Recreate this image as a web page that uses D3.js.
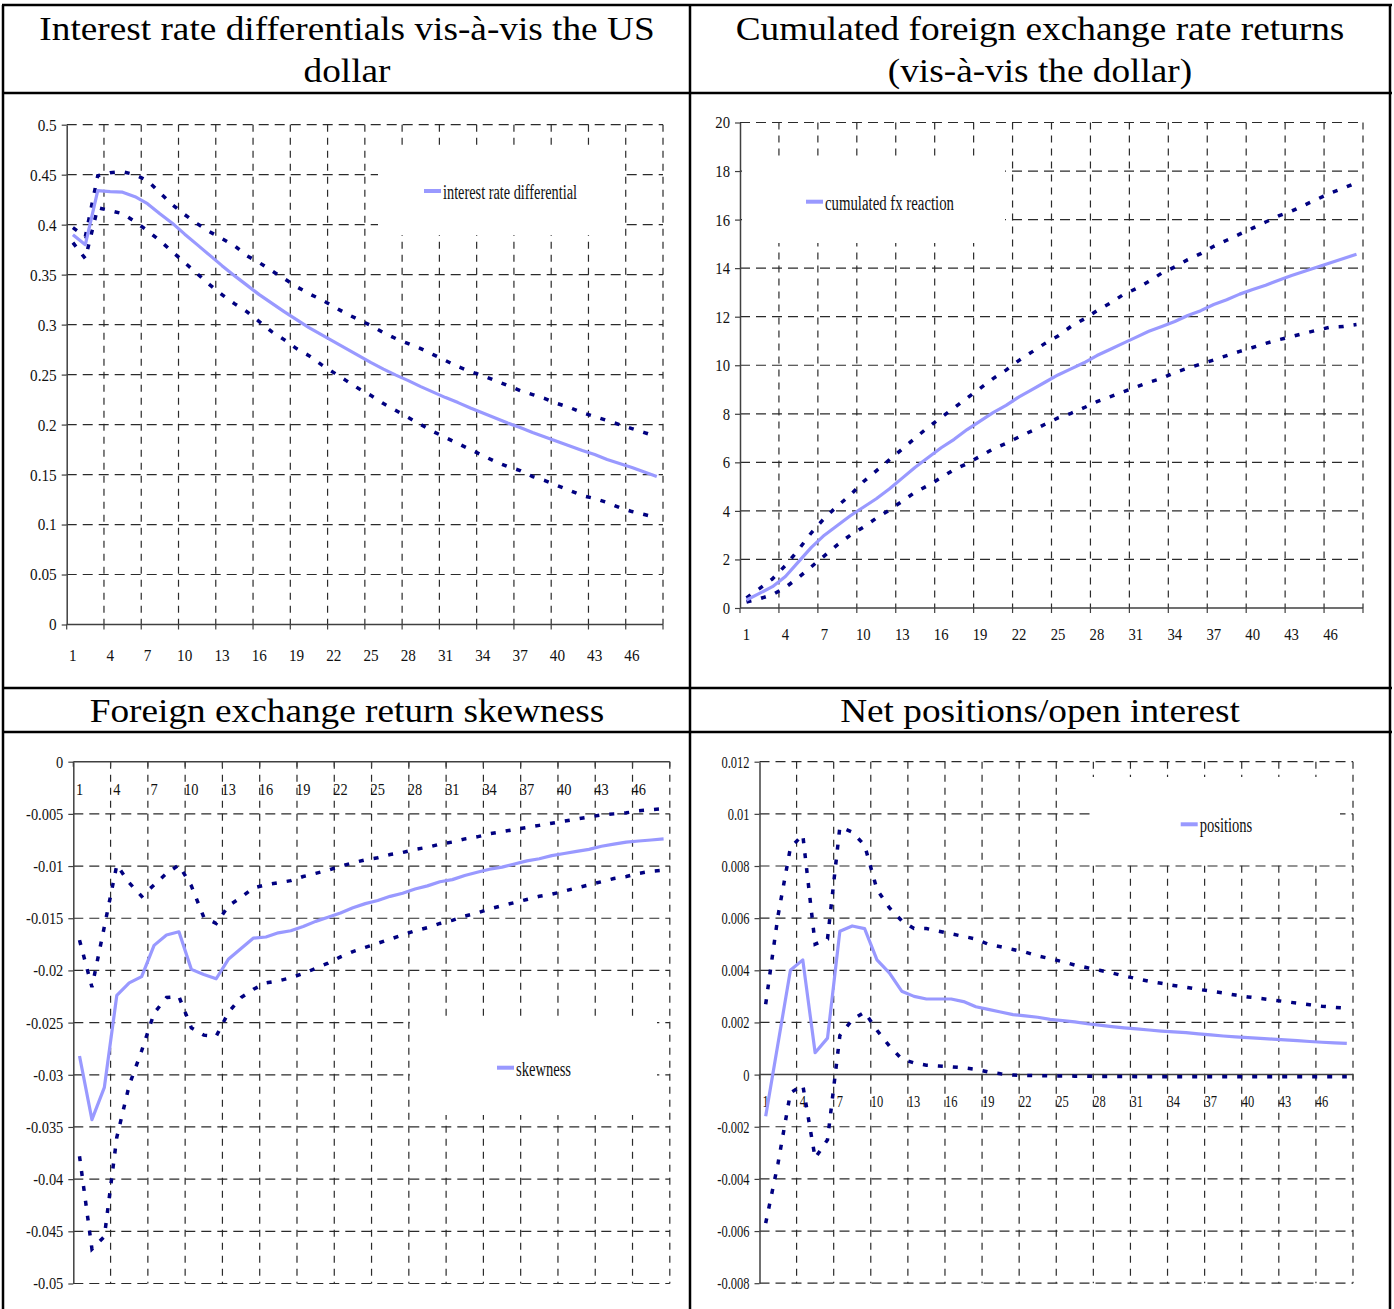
<!DOCTYPE html>
<html>
<head>
<meta charset="utf-8">
<script src="https://cdn.jsdelivr.net/npm/d3@7"></script>
<style>
  html, body { margin: 0; padding: 0; background: #fff; }
  svg { display: block; }
</style>
</head>
<body>
<svg id="chart" width="1394" height="1309"></svg>
<script>
// Horizons (periods after the shock) and the ones that carry a label
const horizons = d3.range(1, 49);
const horizonLabels = horizons.filter((h) => (h - 1) % 3 === 0);

// Interest rate differential vis-à-vis the US dollar
const rateCentral = [0.390,0.380,0.434,0.433,0.4325,0.428,0.421,0.411,0.4015,0.3905,
  0.380,0.3695,0.359,0.349,0.3395,0.330,0.3215,0.313,0.305,0.297,
  0.290,0.283,0.276,0.269,0.262,0.2555,0.2495,0.244,0.238,0.2325,
  0.227,0.222,0.2165,0.2115,0.2065,0.2015,0.197,0.192,0.1875,0.183,
  0.1785,0.174,0.170,0.165,0.161,0.157,0.1525,0.148];
const rateUpper = [0.397,0.388,0.449,0.452,0.453,0.450,0.444,0.432,0.420,0.410,
  0.401,0.393,0.386,0.379,0.369,0.362,0.354,0.346,0.338,0.331,
  0.325,0.318,0.311,0.305,0.299,0.292,0.286,0.281,0.276,0.270,
  0.264,0.258,0.253,0.249,0.244,0.239,0.234,0.230,0.226,0.221,
  0.217,0.212,0.208,0.204,0.200,0.196,0.192,0.188];
const rateLower = [0.382,0.366,0.417,0.414,0.411,0.403,0.394,0.384,0.373,0.362,
  0.351,0.340,0.330,0.321,0.313,0.303,0.293,0.285,0.276,0.269,
  0.260,0.252,0.244,0.236,0.229,0.221,0.214,0.207,0.200,0.193,
  0.187,0.181,0.175,0.169,0.163,0.158,0.154,0.148,0.144,0.139,
  0.134,0.129,0.126,0.122,0.117,0.113,0.110,0.107];
const rateTicks = [0,0.05,0.1,0.15,0.2,0.25,0.3,0.35,0.4,0.45,0.5];

// Cumulated foreign exchange rate returns
const fxCentral = [0.33,0.6,0.88,1.3,1.9,2.5,3.0,3.4,3.8,4.15,
  4.5,4.9,5.35,5.8,6.2,6.6,6.95,7.35,7.7,8.05,
  8.35,8.7,9.0,9.3,9.6,9.85,10.1,10.4,10.65,10.9,
  11.15,11.4,11.6,11.8,12.05,12.25,12.5,12.7,12.93,13.12,
  13.3,13.5,13.7,13.87,14.05,14.22,14.4,14.57];
const fxUpper = [0.42,0.8,1.2,1.75,2.4,3.1,3.7,4.2,4.65,5.2,
  5.65,6.1,6.55,7.0,7.45,7.85,8.25,8.65,9.05,9.45,
  9.8,10.2,10.55,10.9,11.2,11.6,11.9,12.25,12.55,12.9,
  13.15,13.45,13.8,14.05,14.35,14.6,14.9,15.15,15.4,15.65,
  15.9,16.15,16.35,16.6,16.85,17.1,17.3,17.52];
const fxLower = [0.25,0.38,0.55,0.85,1.25,1.7,2.15,2.6,3.0,3.33,
  3.7,4.03,4.4,4.77,5.05,5.37,5.7,5.95,6.25,6.55,
  6.78,7.05,7.3,7.57,7.83,8.02,8.25,8.5,8.7,8.9,
  9.1,9.3,9.46,9.7,9.88,10.05,10.22,10.4,10.57,10.73,
  10.9,11.05,11.18,11.32,11.45,11.57,11.6,11.68];
const fxTicks = [0,2,4,6,8,10,12,14,16,18,20];

// Foreign exchange return skewness
const skewCentral = [-0.0282,-0.0343,-0.0312,-0.0224,-0.0212,-0.0206,-0.0176,-0.0166,-0.0163,-0.0199,
  -0.0204,-0.0208,-0.0189,-0.0179,-0.0169,-0.0168,-0.0164,-0.0162,-0.0158,-0.0153,
  -0.0149,-0.0145,-0.0140,-0.0136,-0.0133,-0.0129,-0.0126,-0.0122,-0.0119,-0.0115,
  -0.0113,-0.0109,-0.0106,-0.0103,-0.0101,-0.0098,-0.0095,-0.0093,-0.0090,-0.0088,
  -0.0086,-0.0084,-0.0081,-0.0079,-0.0077,-0.0076,-0.0075,-0.0074];
const skewUpper = [-0.0171,-0.0216,-0.0158,-0.0099,-0.0116,-0.0129,-0.0118,-0.0107,-0.0099,-0.0119,
  -0.0149,-0.0155,-0.0138,-0.0130,-0.0121,-0.0118,-0.0116,-0.0114,-0.0110,-0.0107,
  -0.0104,-0.0100,-0.0097,-0.0094,-0.0092,-0.0089,-0.0087,-0.0084,-0.0082,-0.0079,
  -0.0077,-0.0074,-0.0072,-0.0069,-0.0067,-0.0065,-0.0063,-0.0061,-0.0059,-0.0057,
  -0.0055,-0.0053,-0.0051,-0.0050,-0.0049,-0.0047,-0.0046,-0.0045];
const skewLower = [-0.0378,-0.0467,-0.0455,-0.0360,-0.0310,-0.0277,-0.0241,-0.0226,-0.0225,-0.0255,
  -0.0262,-0.0263,-0.0240,-0.0226,-0.0218,-0.0212,-0.0210,-0.0207,-0.0203,-0.0198,
  -0.0193,-0.0187,-0.0182,-0.0178,-0.0174,-0.0170,-0.0166,-0.0162,-0.0159,-0.0155,
  -0.0152,-0.0148,-0.0145,-0.0141,-0.0138,-0.0135,-0.0132,-0.0129,-0.0127,-0.0124,
  -0.0121,-0.0118,-0.0115,-0.0112,-0.0110,-0.0107,-0.0105,-0.0104];
const skewTicks = [0,-0.005,-0.01,-0.015,-0.02,-0.025,-0.03,-0.035,-0.04,-0.045,-0.05];

// Net positions / open interest
const posCentral = [-0.0016,0.0012,0.0040,0.0044,0.00084,0.0014,0.0055,0.0057,0.0056,0.0044,
  0.0039,0.0032,0.0030,0.0029,0.0029,0.0029,0.0028,0.0026,0.0025,0.0024,
  0.0023,0.00225,0.0022,0.00212,0.00207,0.00202,0.00195,0.0019,0.00184,0.00179,
  0.00175,0.00171,0.00167,0.00164,0.00161,0.00156,0.00152,0.00148,0.00145,0.00142,
  0.00139,0.00136,0.00133,0.0013,0.00127,0.00124,0.00122,0.0012];
const posUpper = [0.0027,0.0061,0.0087,0.0092,0.0050,0.0052,0.0095,0.0093,0.0088,0.0071,
  0.0064,0.0059,0.0056,0.0056,0.0055,0.0054,0.0053,0.0052,0.0050,0.0049,
  0.0048,0.0047,0.00455,0.00445,0.00433,0.0042,0.0041,0.0040,0.0039,0.00378,
  0.00368,0.00358,0.0035,0.00342,0.00335,0.00327,0.0032,0.00313,0.00305,0.00298,
  0.00292,0.00286,0.0028,0.00274,0.00268,0.00262,0.00258,0.00254];
const posLower = [-0.0057,-0.0034,-0.0007,-0.0004,-0.0032,-0.0025,0.0015,0.0021,0.0024,0.0017,
  0.0011,0.0006,0.00045,0.00036,0.00033,0.0003,0.00026,0.0002,0.0001,0.00003,
  -0.00002,-0.00003,-0.00004,-0.00005,-0.00005,-0.00006,-0.00006,-0.00007,-0.00007,-0.00007,
  -0.00008,-0.00008,-0.00008,-0.00008,-0.00008,-0.00008,-0.00008,-0.00008,-0.00008,-0.00008,
  -0.00008,-0.00008,-0.00008,-0.00008,-0.00008,-0.00008,-0.00008,-0.00008];
const posTicks = [-0.008,-0.006,-0.004,-0.002,0,0.002,0.004,0.006,0.008,0.01,0.012];

// Cell headings
const titleRateLines = ["Interest rate differentials vis-à-vis the US", "dollar"];
const titleFxLines = ["Cumulated foreign exchange rate returns", "(vis-à-vis the dollar)"];
const titleSkew = "Foreign exchange return skewness";
const titlePos = "Net positions/open interest";

const SERIF = "'Liberation Serif','Times New Roman',Times,serif";
const CENTRAL_COLOR = "#9999ff";
const BAND_COLOR = "#000080";
const GRID_COLOR = "#2b2b2b";

const svg = d3.select("#chart");
const fmt = (v) => String(+v.toFixed(4));

function drawPanel(cfg) {
  const x = d3.scaleBand().domain(horizons).range([cfg.left, cfg.right]).padding(0);
  const y = d3.scaleLinear().domain(d3.extent(cfg.ticks)).range([cfg.bottom, cfg.top]);
  const g = svg.append("g");
  const axisY = y(0);
  const sx = cfg.labelScale;

  // horizontal gridlines
  g.append("g").selectAll("line")
    .data(cfg.ticks.filter((t) => t !== 0))
    .join("line")
    .attr("x1", cfg.left).attr("x2", cfg.right)
    .attr("y1", (d) => y(d)).attr("y2", (d) => y(d))
    .attr("stroke", GRID_COLOR).attr("stroke-width", 1.2)
    .attr("stroke-dasharray", "10,6");

  // vertical gridlines on the category boundaries, every third horizon
  const bounds = horizonLabels.slice(1).map((h) => x(h)).concat([cfg.right]);
  g.append("g").selectAll("line")
    .data(bounds)
    .join("line")
    .attr("x1", (d) => d).attr("x2", (d) => d)
    .attr("y1", cfg.top).attr("y2", cfg.bottom)
    .attr("stroke", GRID_COLOR).attr("stroke-width", 1.2)
    .attr("stroke-dasharray", "7,6");

  // legend panel (white, hides the grid behind it)
  const lb = cfg.legendBox;
  g.append("rect")
    .attr("x", lb[0]).attr("y", lb[1])
    .attr("width", lb[2] - lb[0]).attr("height", lb[3] - lb[1])
    .attr("fill", "#fff");

  // value axis
  const yAxis = g.append("g")
    .attr("transform", `translate(${cfg.left},0)`)
    .call(d3.axisLeft(y).tickValues(cfg.ticks).tickFormat(fmt)
      .tickSize(5).tickSizeOuter(0).tickPadding(5));
  yAxis.select(".domain").attr("stroke", "#404040").attr("stroke-width", 1.5);
  yAxis.selectAll(".tick line").attr("stroke", "#404040").attr("stroke-width", 1.2);
  yAxis.selectAll("text").attr("font-family", SERIF).attr("font-size", 16)
    .attr("fill", "#111").attr("dy", "0.34em")
    .attr("x", -10 / sx).attr("transform", `scale(${sx},1)`);

  // category axis line at zero, tick marks on boundaries
  g.append("line")
    .attr("x1", cfg.left).attr("x2", cfg.right)
    .attr("y1", axisY).attr("y2", axisY)
    .attr("stroke", "#404040").attr("stroke-width", 1.5);
  g.append("g").selectAll("line")
    .data([cfg.left].concat(bounds))
    .join("line")
    .attr("x1", (d) => d).attr("x2", (d) => d)
    .attr("y1", axisY).attr("y2", axisY + 5)
    .attr("stroke", "#404040").attr("stroke-width", 1.2);

  const xAxis = g.append("g")
    .attr("transform", `translate(0,${axisY})`)
    .call(d3.axisBottom(x).tickValues(horizonLabels).tickSize(0).tickPadding(cfg.labelPad));
  xAxis.select(".domain").remove();
  xAxis.selectAll("text").attr("font-family", SERIF).attr("font-size", 16).attr("fill", "#111")
    .attr("transform", `scale(${sx},1)`);

  // series
  const line = d3.line()
    .x((d, i) => x(horizons[i]) + x.bandwidth() / 2)
    .y((d) => y(d));
  [cfg.upper, cfg.lower].forEach((s) => {
    g.append("path").datum(s)
      .attr("d", line)
      .attr("fill", "none")
      .attr("stroke", BAND_COLOR)
      .attr("stroke-width", 3.5)
      .attr("stroke-dasharray", "5,10");
  });
  g.append("path").datum(cfg.central)
    .attr("d", line)
    .attr("fill", "none")
    .attr("stroke", CENTRAL_COLOR)
    .attr("stroke-width", 3.2)
    .attr("stroke-linejoin", "round");

  // legend entry
  const lg = cfg.legend;
  g.append("line")
    .attr("x1", lg.x).attr("x2", lg.x + 17)
    .attr("y1", lg.y).attr("y2", lg.y)
    .attr("stroke", CENTRAL_COLOR).attr("stroke-width", 4);
  g.append("text")
    .attr("x", lg.x + 19).attr("y", lg.y + 8)
    .attr("font-family", SERIF).attr("font-size", 20).attr("fill", "#111")
    .attr("textLength", lg.width).attr("lengthAdjust", "spacingAndGlyphs")
    .text(lg.label);
}

drawPanel({
  left: 66.7, right: 663, top: 124.7, bottom: 624.5, ticks: rateTicks,
  central: rateCentral, upper: rateUpper, lower: rateLower, labelPad: 25, labelScale: 0.95,
  legendBox: [378, 145, 622, 235],
  legend: { x: 424, y: 191, width: 134, label: "interest rate differential" }
});
drawPanel({
  left: 740, right: 1363, top: 122.5, bottom: 608, ticks: fxTicks,
  central: fxCentral, upper: fxUpper, lower: fxLower, labelPad: 20.5, labelScale: 0.92,
  legendBox: [742, 157, 1005, 243],
  legend: { x: 806, y: 201.7, width: 129, label: "cumulated fx reaction" }
});
drawPanel({
  left: 73.3, right: 669.8, top: 761.7, bottom: 1283.5, ticks: skewTicks,
  central: skewCentral, upper: skewUpper, lower: skewLower, labelPad: 22, labelScale: 0.9,
  legendBox: [410, 1016, 657, 1115],
  legend: { x: 497, y: 1067.7, width: 55, label: "skewness" }
});
drawPanel({
  left: 759.5, right: 1353, top: 761.7, bottom: 1283.2, ticks: posTicks,
  central: posCentral, upper: posUpper, lower: posLower, labelPad: 21.3, labelScale: 0.78,
  legendBox: [1090, 777, 1340, 865],
  legend: { x: 1180.7, y: 824.3, width: 52.6, label: "positions" }
});

// table rules
const rules = svg.append("g").attr("stroke", "#000").attr("stroke-width", 2.5);
[5, 93, 688, 732].forEach((yy) => rules.append("line").attr("x1", 2).attr("x2", 1392).attr("y1", yy).attr("y2", yy));
[3, 690, 1390].forEach((xx) => rules.append("line").attr("x1", xx).attr("x2", xx).attr("y1", 5).attr("y2", 1309));

// headings (the typeface is set a little wider than the default serif)
const heads = svg.append("g").attr("font-family", SERIF).attr("font-size", 33)
  .attr("fill", "#000").attr("text-anchor", "middle");
function heading(text, cx, baseline) {
  heads.append("text")
    .attr("transform", `translate(${cx},${baseline}) scale(1.13,1)`)
    .text(text);
}
titleRateLines.forEach((t, i) => heading(t, 347, 40 + 42 * i));
titleFxLines.forEach((t, i) => heading(t, 1040, 40 + 42 * i));
heading(titleSkew, 347, 722);
heading(titlePos, 1040, 722);
</script>
</body>
</html>
